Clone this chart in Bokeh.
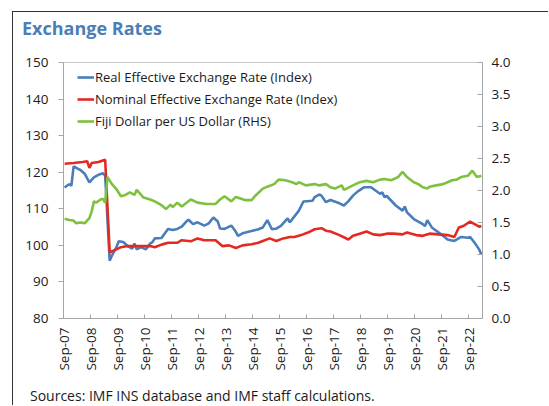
import math
from bokeh.plotting import figure
from bokeh.layouts import column, row
from bokeh.models import (LinearAxis, Range1d, FixedTicker, Legend, LegendItem,
                          NumeralTickFormatter, Div, Spacer)
from bokeh.embed import file_html
from bokeh.resources import INLINE

# ---------------- data ----------------
tick_labels = ["Sep-07", "Sep-08", "Sep-09", "Sep-10", "Sep-11", "Sep-12", "Sep-13", "Sep-14",
               "Sep-15", "Sep-16", "Sep-17", "Sep-18", "Sep-19", "Sep-20", "Sep-21", "Sep-22"]

reer_dates = ["2007-09", "2007-10", "2007-11", "2007-12", "2008-01", "2008-03", "2008-04", "2008-06",
              "2008-08", "2008-10", "2008-12", "2009-02", "2009-03", "2009-05", "2009-06", "2009-08",
              "2009-09", "2009-11", "2010-01", "2010-03", "2010-04", "2010-05", "2010-07", "2010-09",
              "2010-11", "2010-12", "2011-01", "2011-04", "2011-06", "2011-07", "2011-09", "2011-11",
              "2012-01", "2012-03", "2012-04", "2012-06", "2012-08", "2012-11", "2013-01", "2013-03",
              "2013-05", "2013-06", "2013-08", "2013-11", "2014-01", "2014-02", "2014-04", "2014-08",
              "2014-11", "2015-01", "2015-03", "2015-05", "2015-07", "2015-09", "2015-12", "2016-01",
              "2016-05", "2016-07", "2016-11", "2016-12", "2017-02", "2017-03", "2017-05", "2017-07",
              "2017-11", "2018-01", "2018-03", "2018-05", "2018-07", "2018-10", "2019-01", "2019-03",
              "2019-05", "2019-06", "2019-07", "2019-08", "2019-10", "2019-12", "2020-03", "2020-04",
              "2020-05", "2020-08", "2020-12", "2021-01", "2021-02", "2021-04", "2021-06", "2021-09",
              "2021-11", "2022-02", "2022-05", "2022-08", "2022-09", "2022-11", "2023-01", "2023-02"]
reer = [115.8, 116.3, 116.7, 116.3, 121.6, 120.9, 120.6, 119.5,
        117.2, 118.6, 119.3, 119.7, 119.1, 95.8, 97.2, 99.5,
        101.1, 100.9, 99.8, 99.1, 100.5, 98.9, 99.5, 98.9,
        100.5, 100.9, 101.9, 102.0, 103.7, 104.5, 104.2, 104.5,
        105.1, 106.5, 107.0, 105.8, 106.3, 105.4, 106.0, 107.6,
        106.5, 104.6, 104.5, 105.4, 103.7, 102.6, 103.3, 103.9,
        104.4, 104.9, 106.9, 104.4, 104.6, 105.3, 107.4, 106.3,
        109.5, 112.0, 112.2, 113.2, 113.9, 113.6, 111.8, 112.4,
        111.5, 110.9, 112.1, 113.6, 114.7, 115.9, 115.9, 115.0,
        114.1, 114.5, 113.2, 113.5, 112.2, 110.9, 109.5, 110.6,
        109.0, 107.2, 105.8, 105.3, 106.9, 104.9, 104.0, 102.6,
        101.6, 101.2, 102.3, 102.1, 102.3, 100.7, 98.9, 97.5]

neer_dates = ["2007-09", "2008-01", "2008-05", "2008-07", "2008-08", "2008-09", "2008-12", "2009-03",
              "2009-05", "2009-08", "2009-10", "2010-01", "2010-07", "2010-11", "2011-01", "2011-04",
              "2011-07", "2011-11", "2012-01", "2012-05", "2012-08", "2012-11", "2013-04", "2013-07",
              "2013-10", "2014-01", "2014-04", "2014-08", "2014-11", "2015-01", "2015-04", "2015-07",
              "2015-10", "2016-01", "2016-03", "2016-06", "2016-09", "2016-12", "2017-03", "2017-05",
              "2017-07", "2017-11", "2018-03", "2018-05", "2018-08", "2018-11", "2019-02", "2019-05",
              "2019-08", "2019-11", "2020-03", "2020-05", "2020-09", "2020-12", "2021-03", "2021-07",
              "2021-11", "2022-02", "2022-04", "2022-06", "2022-09", "2022-11", "2023-01", "2023-02"]
neer = [122.3, 122.5, 122.8, 123.0, 121.2, 122.5, 122.8, 123.4,
        98.1, 98.9, 99.5, 99.8, 99.8, 99.8, 99.5, 100.2,
        100.7, 100.7, 101.4, 101.1, 101.9, 101.4, 101.4, 99.8,
        100.0, 99.3, 100.0, 100.3, 100.7, 101.2, 101.9, 101.2,
        101.9, 102.3, 102.3, 102.8, 103.5, 104.4, 104.7, 104.0,
        103.8, 102.8, 101.6, 102.6, 103.2, 103.8, 103.0, 102.8,
        103.2, 103.2, 103.0, 103.5, 102.8, 102.6, 103.2, 103.0,
        102.8, 102.3, 104.9, 105.3, 106.5, 105.8, 105.1, 105.3]

fjd_dates = ["2007-09", "2007-11", "2008-01", "2008-02", "2008-04", "2008-06", "2008-08", "2008-09",
             "2008-10", "2008-11", "2009-01", "2009-02", "2009-03", "2009-04", "2009-06", "2009-08",
             "2009-10", "2009-12", "2010-02", "2010-04", "2010-05", "2010-06", "2010-08", "2010-11",
             "2011-01", "2011-04", "2011-06", "2011-08", "2011-09", "2011-11", "2012-01", "2012-05",
             "2012-08", "2012-12", "2013-04", "2013-06", "2013-08", "2013-11", "2014-01", "2014-05",
             "2014-08", "2014-10", "2015-01", "2015-03", "2015-06", "2015-08", "2015-11", "2016-02",
             "2016-04", "2016-05", "2016-08", "2016-12", "2017-02", "2017-05", "2017-07", "2017-09",
             "2017-12", "2018-01", "2018-05", "2018-08", "2018-11", "2019-02", "2019-05", "2019-07",
             "2019-10", "2020-01", "2020-03", "2020-05", "2020-08", "2020-10", "2020-12", "2021-02",
             "2021-03", "2021-06", "2021-09", "2021-11", "2022-01", "2022-03", "2022-05", "2022-08",
             "2022-10", "2022-12", "2023-02"]
fjd = [1.56, 1.54, 1.53, 1.49, 1.50, 1.49, 1.57, 1.67,
       1.83, 1.81, 1.86, 1.87, 1.81, 2.21, 2.10, 2.02,
       1.91, 1.93, 1.97, 1.93, 2.01, 1.97, 1.89, 1.86,
       1.83, 1.77, 1.71, 1.78, 1.74, 1.81, 1.75, 1.86,
       1.81, 1.79, 1.79, 1.86, 1.91, 1.83, 1.90, 1.85,
       1.85, 1.93, 2.03, 2.06, 2.10, 2.17, 2.16, 2.13,
       2.10, 2.13, 2.08, 2.10, 2.08, 2.10, 2.05, 2.03,
       2.08, 2.01, 2.08, 2.13, 2.15, 2.13, 2.17, 2.18,
       2.16, 2.21, 2.29, 2.21, 2.13, 2.10, 2.05, 2.03,
       2.06, 2.08, 2.10, 2.13, 2.16, 2.17, 2.21, 2.23,
       2.31, 2.21, 2.23]

title_text = "Exchange Rates"
source_text = "Sources: IMF INS database and IMF staff calculations."


def month_pos(dates):
    # position of each month on the category axis (Sep-2007 is the first category)
    out = []
    for d in dates:
        y, m = int(d[:4]), int(d[5:7])
        out.append((y - 2007) * 12 + (m - 9) + 0.5)
    return out


FONT = "Open Sans"
TXT = "#1a1a1a"
AX = "#a6a6a6"
FRAME_H = 256

p = figure(width=535, height=337, output_backend="svg", toolbar_location=None,
           x_range=Range1d(0, 186), y_range=Range1d(80, 150),
           min_border_left=50, min_border_right=66, min_border_top=12, min_border_bottom=69)
p.margin = 0
p.background_fill_color = "white"
p.border_fill_color = "white"
p.outline_line_color = "#c8c8c8"
p.xgrid.visible = False
p.ygrid.visible = False

p.extra_y_ranges = {"rhs": Range1d(0, 4)}

r1 = p.line(month_pos(reer_dates), reer, line_color="#4A7EBB", line_width=2.6)
r2 = p.line(month_pos(neer_dates), neer, line_color="#E32A22", line_width=2.6)
r3 = p.line(month_pos(fjd_dates), fjd, line_color="#7DC13F", line_width=2.6, y_range_name="rhs")

# axes
xa = p.xaxis[0]
xa.ticker = FixedTicker(ticks=[12 * i for i in range(len(tick_labels))])
xa.major_label_overrides = {12 * i: lab for i, lab in enumerate(tick_labels)}
xa.major_label_orientation = math.pi / 2
xa.major_tick_in = 4
xa.major_tick_out = 0
xa.minor_tick_line_color = None
xa.axis_line_color = AX
xa.major_tick_line_color = AX
xa.major_label_text_font = FONT
xa.major_label_text_font_size = "13.5px"
xa.major_label_text_color = TXT
xa.major_label_standoff = 9

ya = p.yaxis[0]
ya.ticker = FixedTicker(ticks=[80, 90, 100, 110, 120, 130, 140, 150])
ya.major_tick_in = 0
ya.major_tick_out = 5
ya.minor_tick_line_color = None
ya.axis_line_color = AX
ya.major_tick_line_color = AX
ya.major_label_text_font = FONT
ya.major_label_text_font_size = "13.5px"
ya.major_label_text_color = TXT
ya.major_label_standoff = 10

ra = LinearAxis(y_range_name="rhs", ticker=FixedTicker(ticks=[0, 0.5, 1, 1.5, 2, 2.5, 3, 3.5, 4]),
                formatter=NumeralTickFormatter(format="0.0"))
ra.major_tick_in = 5
ra.major_tick_out = 0
ra.minor_tick_line_color = None
ra.axis_line_color = AX
ra.major_tick_line_color = AX
ra.major_label_text_font = FONT
ra.major_label_text_font_size = "13.5px"
ra.major_label_text_color = TXT
ra.major_label_standoff = 9
p.add_layout(ra, "right")

# legend
legend = Legend(items=[
    LegendItem(label="Real Effective Exchange Rate (Index)", renderers=[r1]),
    LegendItem(label="Nominal Effective Exchange Rate (Index)", renderers=[r2]),
    LegendItem(label="Fiji Dollar per US Dollar (RHS)", renderers=[r3]),
], location=(14, FRAME_H - 70))
legend.padding = 0
legend.margin = 0
legend.spacing = 0
legend.label_height = 22
legend.glyph_height = 22
legend.glyph_width = 17
legend.label_standoff = 1
legend.border_line_color = None
legend.background_fill_alpha = 0
legend.label_text_font = FONT
legend.label_text_font_size = "13px"
legend.label_text_color = TXT
p.add_layout(legend)

# title above the chart
title = Div(text=title_text, width=535, height=38, margin=0,
            styles={"font-family": "Open Sans", "font-size": "18px", "font-weight": "bold",
                    "line-height": "22px", "color": "#4A7FB5", "white-space": "nowrap",
                    "padding-left": "9px", "padding-top": "5px", "box-sizing": "border-box",
                    "background-color": "white"})

# source note below the chart
source = Div(text=source_text, width=535, height=18, margin=0,
             styles={"font-family": "Open Sans", "font-size": "14px", "line-height": "18px",
                     "color": TXT, "white-space": "nowrap",
                     "padding-left": "17px", "box-sizing": "border-box",
                     "background-color": "white"})

# outer box (only its left and top edges are inside the picture)
top_line = Div(width=536, height=1, margin=0, styles={"background-color": "#333333"})
left_line = Div(width=1, height=393, margin=0, styles={"background-color": "#333333"})
layout = column(Spacer(height=11, width=10, margin=0),
                row(Spacer(width=12, height=1, margin=0), top_line, margin=0, spacing=0),
                row(Spacer(width=12, height=10, margin=0), left_line,
                    column(title, p, source, margin=0, spacing=0), margin=0, spacing=0),
                margin=0, spacing=0)

open("out.html", "w").write(file_html(layout, INLINE))
